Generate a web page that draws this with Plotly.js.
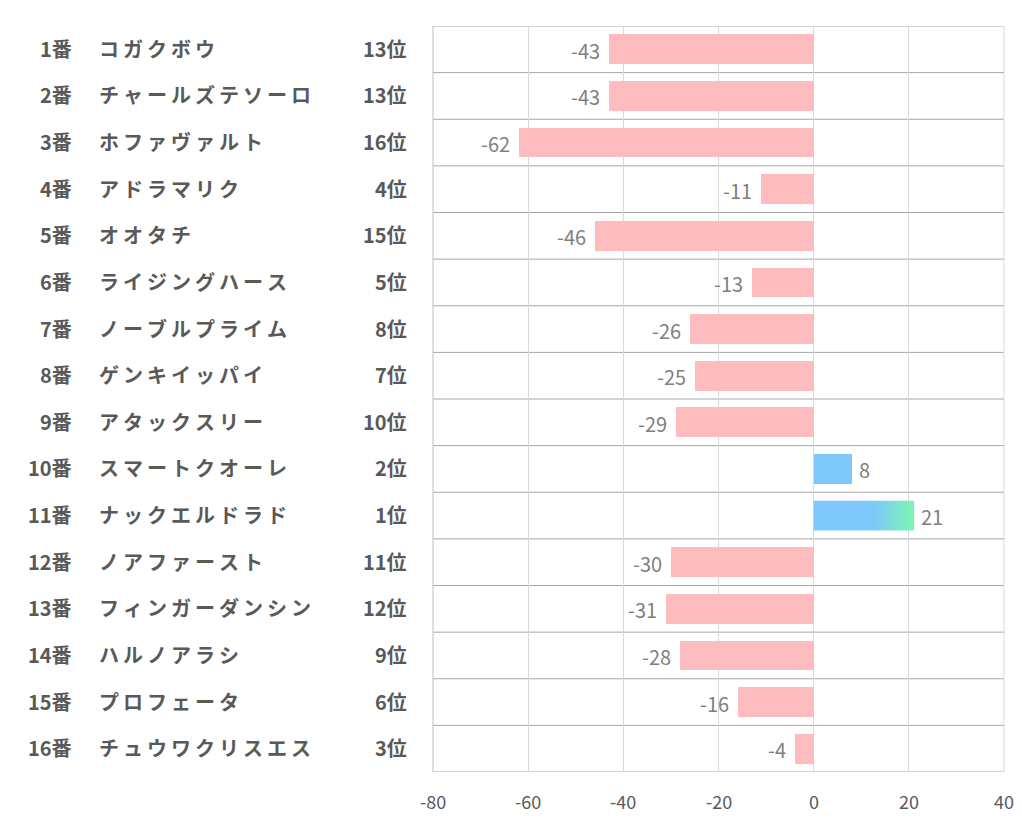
<!DOCTYPE html>
<html>
<head>
<meta charset="utf-8">
<script src="https://cdn.plot.ly/plotly-3.0.1.min.js"></script>
<style>html,body{margin:0;padding:0;background:#fff;}#chart{width:1022px;height:834px;}</style>
</head>
<body>
<div id="chart"></div>
<script>
const numbers = ["1番","2番","3番","4番","5番","6番","7番","8番","9番","10番","11番","12番","13番","14番","15番","16番"];
const names = ["コガクボウ","チャールズテソーロ","ホファヴァルト","アドラマリク","オオタチ","ライジングハース","ノーブルプライム","ゲンキイッパイ","アタックスリー","スマートクオーレ","ナックエルドラド","ノアファースト","フィンガーダンシン","ハルノアラシ","プロフェータ","チュウワクリスエス"];
const ranks = ["13位","13位","16位","4位","15位","5位","8位","7位","10位","2位","1位","11位","12位","9位","6位","3位"];
const values = [-43,-43,-62,-11,-46,-13,-26,-25,-29,8,21,-30,-31,-28,-16,-4];
const xTicks = [-80,-60,-40,-20,0,20,40];

const n = values.length;
const idx = values.map((v,i)=>i);
const pink = '#ffbcbf', blue = '#7ec8fb', green = '#7df6b6';
const barColors = values.map(v => v >= 0 ? blue : pink);
const halfW = 0.32;

const traces = [{
  type: 'bar', orientation: 'h',
  x: values, y: idx,
  width: halfW*2,
  marker: {color: barColors, line: {width: 0}},
  hoverinfo: 'skip'
}];

// gradient overlay for the best (max) bar
const best = values.indexOf(Math.max(...values));
const bv = values[best];
traces.push({
  type: 'scatter', mode: 'lines',
  x: [0, bv, bv, 0, 0],
  y: [best-halfW, best-halfW, best+halfW, best+halfW, best-halfW],
  fill: 'toself',
  line: {width: 0, color: 'rgba(0,0,0,0)'},
  fillgradient: {type: 'horizontal', colorscale: [[0, blue],[0.6, blue],[1, green]]},
  hoverinfo: 'skip', showlegend: false
});

const plotL = 433, plotR = 1004, W = plotR - plotL;
const px = p => (p - plotL) / W;
const lblFont = {family: 'Noto Sans CJK JP, sans-serif', size: 20, color: '#595959', weight: 'bold'};
const valFont = {family: 'Noto Sans CJK JP, sans-serif', size: 20, color: '#7f7f7f'};
const tickFont = {family: 'Noto Sans CJK JP, sans-serif', size: 18, color: '#595959'};
const spaced = s => Array.from(s).join('\u2009');
const annotations = [];
for (let i = 0; i < n; i++) {
  annotations.push({xref:'paper', yref:'y', x: px(74), y: i, text: '<b>'+numbers[i]+'</b>', showarrow:false, xanchor:'right', yanchor:'middle', yshift: 1, font: lblFont});
  annotations.push({xref:'paper', yref:'y', x: px(97), y: i, text: '<b>'+spaced(names[i])+'</b>', showarrow:false, xanchor:'left', yanchor:'middle', yshift: 1, font: lblFont});
  annotations.push({xref:'paper', yref:'y', x: px(409), y: i, text: '<b>'+ranks[i]+'</b>', showarrow:false, xanchor:'right', yanchor:'middle', yshift: 1, font: lblFont});
  const v = values[i];
  annotations.push({xref:'x', yref:'y', x: v, y: i, text: String(v), showarrow:false,
    xanchor: v < 0 ? 'right' : 'left', xshift: v < 0 ? -7 : 5, yshift: -1, yanchor:'middle', font: valFont});
}
// x-axis tick labels drawn as annotations at the axis tick positions
xTicks.forEach(t => {
  annotations.push({xref:'x', yref:'paper', x: t, y: 0, text: String(t), showarrow:false,
    xanchor:'center', yanchor:'top', yshift: -14, font: tickFont});
});

const shapes = [];
for (let i = 0; i <= n; i++) {
  shapes.push({type:'line', xref:'paper', yref:'y', x0:0, x1:1, y0:i-0.5, y1:i-0.5, line:{color:'#a6a6a6', width:1}, layer:'below'});
}
shapes.push({type:'line', xref:'paper', yref:'paper', x0:1, x1:1, y0:0, y1:1, line:{color:'#d9d9d9', width:1}, layer:'below'});
shapes.push({type:'line', xref:'paper', yref:'paper', x0:0, x1:0, y0:0, y1:1, line:{color:'#bfbfbf', width:1}, layer:'below'});

const layout = {
  width: 1022, height: 834,
  margin: {l: plotL, r: 1022 - plotR, t: 26, b: 62, pad: 0},
  paper_bgcolor: '#fff', plot_bgcolor: '#fff',
  showlegend: false,
  hovermode: false,
  bargap: 0,
  xaxis: {
    range: [-80, 40], tickvals: xTicks, showticklabels: false,
    showgrid: true, gridcolor: '#d9d9d9', gridwidth: 1,
    zeroline: true, zerolinecolor: '#d9d9d9', zerolinewidth: 1,
    showline: false, ticks: ''
  },
  yaxis: {
    range: [n - 0.5, -0.5],
    showticklabels: false, showgrid: false,
    zeroline: false, showline: false, ticks: ''
  },
  shapes: shapes,
  annotations: annotations
};

Plotly.newPlot('chart', traces, layout, {displayModeBar: false, staticPlot: true});
</script>
</body>
</html>
